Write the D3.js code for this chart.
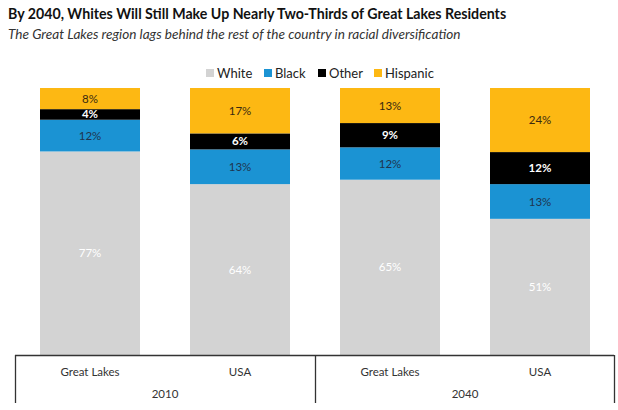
<!DOCTYPE html>
<html><head><meta charset="utf-8">
<script src="https://cdn.jsdelivr.net/npm/d3@7"></script>
<style>body{margin:0;background:#fff;font-family:Lato,sans-serif}</style>
</head><body>
<svg id="c" width="618" height="410"></svg>
<script>
const groups = ["Great Lakes|2010","USA|2010","Great Lakes|2040","USA|2040"];
const places = ["Great Lakes","USA","Great Lakes","USA"];
const years = ["2010","2040"];
const seriesNames = ["White","Black","Other","Hispanic"];
const white = [77,64,65,51];
const black = [12,13,12,13];
const other = [4,6,9,12];
const hispanic = [8,17,13,24];
const colors = ["#d3d3d3","#1b93d3","#000000","#fdb813"];
const labelColors = ["#ffffff","#1f3550","#ffffff","#3a2a10"];

const svg = d3.select("#c");
svg.append("text").attr("x",8).attr("y",19).attr("font-size",14.2).attr("font-weight",700).attr("fill","#111")
  .text("By 2040, Whites Will Still Make Up Nearly Two-Thirds of Great Lakes Residents");
svg.append("text").attr("x",8).attr("y",39).attr("font-size",13.6).attr("font-style","italic").attr("fill","#333")
  .text("The Great Lakes region lags behind the rest of the country in racial diversification");

const rows = groups.map((g,i)=>({g, White:white[i], Black:black[i], Other:other[i], Hispanic:hispanic[i]}));
const stack = d3.stack().keys(seriesNames).offset(d3.stackOffsetExpand);
const stacked = stack(rows);

const x = d3.scaleBand().domain(groups).range([15,615]).paddingInner(1/3).paddingOuter(1/6);
const y = d3.scaleLinear().domain([0,1]).range([355,88]);

const layer = svg.selectAll("g.layer").data(stacked).join("g").attr("fill",(d,i)=>colors[i]);
layer.selectAll("rect").data(d=>d).join("rect")
  .attr("x",d=>x(d.data.g)).attr("width",x.bandwidth())
  .attr("y",d=>y(d[1])).attr("height",d=>y(d[0])-y(d[1]));

stacked.forEach((s,si)=>{
  svg.append("g").selectAll("text").data(s).join("text")
    .attr("x",d=>x(d.data.g)+x.bandwidth()/2)
    .attr("y",d=>(y(d[0])+y(d[1]))/2)
    .attr("dy","0.35em").attr("text-anchor","middle")
    .attr("font-size",11.5).attr("font-weight",si===2?700:400)
    .attr("fill",labelColors[si])
    .text(d=>d.data[s.key]+"%");
});

// legend
const legX = [206,264,318,374];
const leg = svg.append("g");
seriesNames.forEach((n,i)=>{
  leg.append("rect").attr("x",legX[i]).attr("y",69).attr("width",8).attr("height",8).attr("fill",colors[i]);
  leg.append("text").attr("x",legX[i]+11).attr("y",73).attr("dy","0.35em").attr("font-size",13).attr("fill","#222").text(n);
});

// axis
const ax = svg.append("g");
ax.append("line").attr("x1",15).attr("x2",614).attr("y1",355.5).attr("y2",355.5).attr("stroke","#333").attr("stroke-width",1.3);
[15,315,614].forEach(xx=>ax.append("line").attr("x1",xx+0.5).attr("x2",xx+0.5).attr("y1",355).attr("y2",403).attr("stroke","#333").attr("stroke-width",1.3));
ax.selectAll("text.cat").data(groups).join("text").attr("class","cat")
  .attr("x",d=>x(d)+x.bandwidth()/2).attr("y",372).attr("dy","0.35em").attr("text-anchor","middle")
  .attr("font-size",11.5).attr("fill","#333").text((d,i)=>places[i]);
years.forEach((yr,i)=>{
  const a = x(groups[i*2]), b = x(groups[i*2+1])+x.bandwidth();
  ax.append("text").attr("x",(a+b)/2).attr("y",394).attr("dy","0.35em").attr("text-anchor","middle")
    .attr("font-size",11.5).attr("fill","#333").text(yr);
});
</script>
</body></html>
